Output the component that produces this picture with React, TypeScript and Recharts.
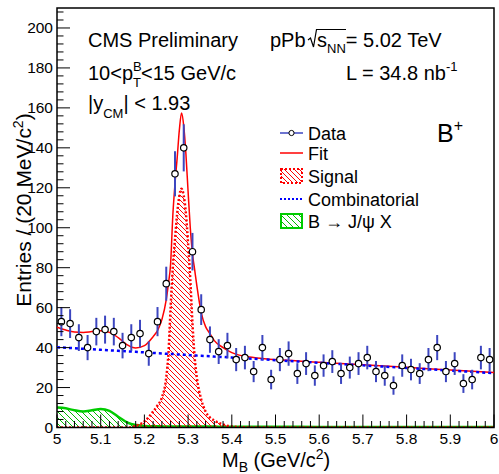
import {
  ComposedChart,
  Area,
  Line,
  Scatter,
  ErrorBar,
  XAxis,
  YAxis,
  ReferenceArea,
} from "recharts";

// data points: 20 MeV bins
const binMass = [
  5.01, 5.03, 5.05, 5.07, 5.09, 5.11, 5.13, 5.15, 5.17, 5.19,
  5.21, 5.23, 5.25, 5.27, 5.29, 5.31, 5.33, 5.35, 5.37, 5.39,
  5.41, 5.43, 5.45, 5.47, 5.49, 5.51, 5.53, 5.55, 5.57, 5.59,
  5.61, 5.63, 5.65, 5.67, 5.69, 5.71, 5.73, 5.75, 5.77, 5.79,
  5.81, 5.83, 5.85, 5.87, 5.89, 5.91, 5.93, 5.95, 5.97, 5.99,
];
const entries = [
  53, 52, 45, 40, 48, 49, 48, 41, 45, 47,
  37, 53, 72, 127, 140, 88, 59, 44, 38, 41,
  34, 35, 28, 40, 24, 34, 37, 27, 32, 26,
  31, 33, 27, 30, 32, 35, 28, 26, 21, 31,
  29, 27, 34, 40, 28, 32, 22, 24, 35, 34,
];
const entryErrors = [
  7.3, 7.2, 6.7, 6.3, 6.9, 7.0, 6.9, 6.4, 6.7, 6.9,
  6.1, 7.3, 8.5, 11.3, 11.8, 9.4, 7.7, 6.6, 6.2, 6.4,
  5.8, 5.9, 5.3, 6.3, 4.9, 5.8, 6.1, 5.2, 5.7, 5.1,
  5.6, 5.7, 5.2, 5.5, 5.7, 5.9, 5.3, 5.1, 4.6, 5.6,
  5.4, 5.2, 5.8, 6.3, 5.3, 5.7, 4.7, 4.9, 5.9, 5.8,
];

// fit components, sampled along the mass axis
const curveMass = [
  5.0, 5.02, 5.04, 5.06, 5.08, 5.1, 5.12, 5.14, 5.16, 5.18,
  5.2, 5.22, 5.23, 5.24, 5.25, 5.255, 5.26, 5.265, 5.27, 5.275,
  5.28, 5.285, 5.29, 5.295, 5.3, 5.305, 5.31, 5.315, 5.32, 5.33,
  5.34, 5.35, 5.36, 5.38, 5.4, 5.45, 5.5, 5.6, 5.7, 5.8, 5.9, 6.0,
];
const fitCurve = [
  50.2, 48.8, 47.8, 47.6, 48.0, 48.4, 47.6, 45.0, 41.5, 39.8,
  41.0, 45.5, 48.5, 54, 64, 72, 82, 106, 122, 135,
  149, 157.5, 151, 137, 118, 100, 87, 79, 71, 57.5,
  50.5, 47, 43.5, 40, 37.5, 35, 34.0, 32.7, 31.4, 30.1, 28.8, 27.5,
];
const signalCurve = [
  0, 0, 0, 0, 0, 0, 0, 0, 0, 0.8,
  3, 8, 11, 15, 25, 37, 60, 80, 94, 107,
  116, 119.5, 116, 107, 92, 74, 52, 35, 25, 14,
  8, 5, 3.5, 1.5, 0.5, 0, 0, 0, 0, 0, 0, 0,
];
const combCurve = [
  40.2, 39.9, 39.7, 39.4, 39.2, 38.9, 38.6, 38.4, 38.1, 37.9,
  37.6, 37.3, 37.2, 37.1, 36.9, 36.9, 36.8, 36.8, 36.7, 36.6,
  36.6, 36.5, 36.4, 36.4, 36.3, 36.2, 36.2, 36.1, 36.0, 35.9,
  35.8, 35.7, 35.5, 35.3, 35.0, 34.4, 33.7, 32.4, 31.1, 29.8, 28.5, 27.2,
];
const bjpsiCurve = [
  10, 9.6, 8.6, 8.0, 8.6, 9.3, 8.3, 5.4, 2.6, 1.2,
  0.8, 0.6, 0.6, 0.55, 0.5, 0.5, 0.5, 0.5, 0.5, 0.5,
  0.5, 0.5, 0.5, 0.5, 0.5, 0.5, 0.5, 0.5, 0.5, 0.45,
  0.45, 0.45, 0.45, 0.4, 0.4, 0.4, 0.35, 0.3, 0.3, 0.25, 0.25, 0.2,
];

const xMajorLabels = ["5", "5.1", "5.2", "5.3", "5.4", "5.5", "5.6", "5.7", "5.8", "5.9", "6"];
const yMajorLabels = [0, 20, 40, 60, 80, 100, 120, 140, 160, 180, 200];

const xTicks = Array.from({ length: 51 }, (_, i) => Math.round((5 + i * 0.02) * 100) / 100);
const yTicks = Array.from({ length: 53 }, (_, i) => i * 4);

const points = binMass.map((x, i) => ({ x, y: entries[i], err: entryErrors[i] }));
const curves = curveMass.map((x, i) => ({
  x,
  fit: fitCurve[i],
  signal: signalCurve[i],
  comb: combCurve[i],
  bjpsi: bjpsiCurve[i],
}));

const FONT = "'Liberation Sans', Arial, Helvetica, sans-serif";
const PLOT_BOTTOM = 427.5;

function XTick(props: any) {
  const { x, payload } = props;
  const v = payload.value as number;
  const idx = Math.round((v - 5) * 10 * 1000) / 1000;
  const major = Math.abs(idx - Math.round(idx)) < 1e-6;
  return (
    <g>
      <line x1={x} x2={x} y1={PLOT_BOTTOM} y2={PLOT_BOTTOM - (major ? 13 : 6.5)} stroke="#000" strokeWidth={1} />
      {major && (
        <text x={x} y={443.5} textAnchor="middle" fontFamily={FONT} fontSize={15.5} fill="#000">
          {xMajorLabels[Math.round(idx)]}
        </text>
      )}
    </g>
  );
}

function YTick(props: any) {
  const { x, y, payload } = props;
  const v = payload.value as number;
  const major = yMajorLabels.includes(v);
  const left = x + 4;
  return (
    <g>
      <line x1={left} x2={left + (major ? 13 : 6.5)} y1={y} y2={y} stroke="#000" strokeWidth={1} />
      {major && (
        <text x={x} y={y + 5.5} textAnchor="end" fontFamily={FONT} fontSize={15.5} fill="#000">
          {v}
        </text>
      )}
    </g>
  );
}

function Marker(props: any) {
  const { cx, cy } = props;
  return <circle cx={cx} cy={cy} r={3.2} fill="#fff" stroke="#000" strokeWidth={1.2} />;
}

export default function App() {
  return (
    <div style={{ position: "absolute", left: 0, top: 0, width: 499, height: 474, background: "#fff" }}>
      <svg width={0} height={0} style={{ position: "absolute" }}>
        <defs>
          <pattern id="hatchRed" patternUnits="userSpaceOnUse" width={5} height={5}>
            <path d="M0,0 L5,5 M-1,4 L1,6 M4,-1 L6,1" stroke="#ff0000" strokeWidth={1} />
          </pattern>
          <pattern id="hatchGreen" patternUnits="userSpaceOnUse" width={6} height={6}>
            <path d="M0,0 L6,6 M-1,5 L1,7 M5,-1 L7,1" stroke="#00bb00" strokeWidth={1} />
          </pattern>
        </defs>
      </svg>
      <ComposedChart width={499} height={474} data={curves} margin={{ top: 8, right: 5, bottom: 0, left: 0 }}>
        <XAxis
          dataKey="x"
          type="number"
          domain={[5, 6]}
          ticks={xTicks}
          interval={0}
          tick={XTick}
          tickLine={false}
          axisLine={false}
          tickSize={0}
          tickMargin={0}
          height={46.5}
          allowDataOverflow
        />
        <YAxis
          type="number"
          domain={[0, 210]}
          ticks={yTicks}
          interval={0}
          tick={YTick}
          tickLine={false}
          axisLine={false}
          tickSize={0}
          tickMargin={4}
          width={57}
          allowDataOverflow
        />
        <Area
          dataKey="bjpsi"
          type="monotone"
          stroke="#00cc00"
          strokeWidth={2.5}
          fill="url(#hatchGreen)"
          fillOpacity={1}
          dot={false}
          activeDot={false}
          isAnimationActive={false}
        />
        <Area
          dataKey="signal"
          type="monotone"
          stroke="#ff0000"
          strokeWidth={2.5}
          strokeDasharray="2 2"
          fill="url(#hatchRed)"
          fillOpacity={1}
          dot={false}
          activeDot={false}
          isAnimationActive={false}
        />
        <Line dataKey="fit" type="monotone" stroke="#ff0000" strokeWidth={1.5} dot={false} activeDot={false} isAnimationActive={false} />
        <Line
          dataKey="comb"
          type="linear"
          stroke="#0000ff"
          strokeWidth={2.5}
          strokeDasharray="3 3"
          dot={false}
          activeDot={false}
          isAnimationActive={false}
        />
        <Scatter data={points} dataKey="y" shape={Marker} isAnimationActive={false}>
          <ErrorBar dataKey="err" direction="y" width={0} stroke="#3c46c0" strokeWidth={2} />
        </Scatter>
        <ReferenceArea x1={5} x2={6} y1={0} y2={210} fill="none" stroke="#000" strokeWidth={1.5} ifOverflow="visible" />
      </ComposedChart>

      <svg
        width={499}
        height={474}
        style={{ position: "absolute", left: 0, top: 0, pointerEvents: "none" }}
        fontFamily={FONT}
        fill="#000"
      >
        <text x={88} y={47} fontSize={20}>CMS Preliminary</text>
        <text x={270} y={47} fontSize={20}>pPb</text>
        <path d="M308,40 L310.5,38 L313.5,47 L316.5,29.5 L346,29.5" fill="none" stroke="#000" strokeWidth={1.2} />
        <text x={317} y={47} fontSize={20}>
          s<tspan fontSize={13} dy={6}>NN</tspan>
          <tspan dy={-6}>= 5.02 TeV</tspan>
        </text>

        <text x={88} y={80} fontSize={20}>
          10&lt;p<tspan fontSize={13} dy={-9}>B</tspan>
          <tspan fontSize={13} dx={-8.7} dy={16}>T</tspan>
          <tspan dy={-7}>&lt;15 GeV/c</tspan>
        </text>
        <text x={346} y={80} fontSize={20}>
          L = 34.8 nb<tspan fontSize={13} dy={-9}>-1</tspan>
        </text>

        <text x={88} y={110} fontSize={20}>
          |y<tspan fontSize={13} dy={8}>CM</tspan>
          <tspan dy={-8}>| &lt; 1.93</tspan>
        </text>

        <text x={437} y={142} fontSize={25}>
          B<tspan fontSize={16} dy={-11}>+</tspan>
        </text>

        {/* legend */}
        <line x1={280} x2={303} y1={133} y2={133} stroke="#3c46c0" strokeWidth={1.5} />
        <circle cx={291.5} cy={133} r={2.6} fill="#fff" stroke="#000" strokeWidth={1} />
        <text x={308} y={139.5} fontSize={18}>Data</text>

        <line x1={280} x2={303} y1={153} y2={153} stroke="#ff0000" strokeWidth={1.5} />
        <text x={308} y={159.5} fontSize={18}>Fit</text>

        <rect x={281} y={169} width={21} height={14} fill="url(#hatchRed)" stroke="#ff0000" strokeWidth={2} strokeDasharray="2 2" />
        <text x={308} y={182.5} fontSize={18}>Signal</text>

        <line x1={280} x2={303} y1={199} y2={199} stroke="#0000ff" strokeWidth={2} strokeDasharray="2 2" />
        <text x={308} y={205.5} fontSize={18}>Combinatorial</text>

        <rect x={281} y={214} width={21} height={14} fill="url(#hatchGreen)" stroke="#00cc00" strokeWidth={2} />
        <text x={308} y={227.5} fontSize={18}>B → J/ψ X</text>

        {/* axis titles */}
        <text x={222} y={467} fontSize={20}>
          M<tspan fontSize={14} dy={5}>B</tspan>
          <tspan dy={-5}> (GeV/c</tspan>
          <tspan fontSize={14} dy={-8}>2</tspan>
          <tspan dy={8}>)</tspan>
        </text>
        <text x={31} y={210} fontSize={21} textAnchor="middle" transform="rotate(-90, 31, 210)">
          Entries / (20 MeV/c<tspan fontSize={14} dy={-8}>2</tspan>
          <tspan dy={8}>)</tspan>
        </text>
      </svg>
    </div>
  );
}
